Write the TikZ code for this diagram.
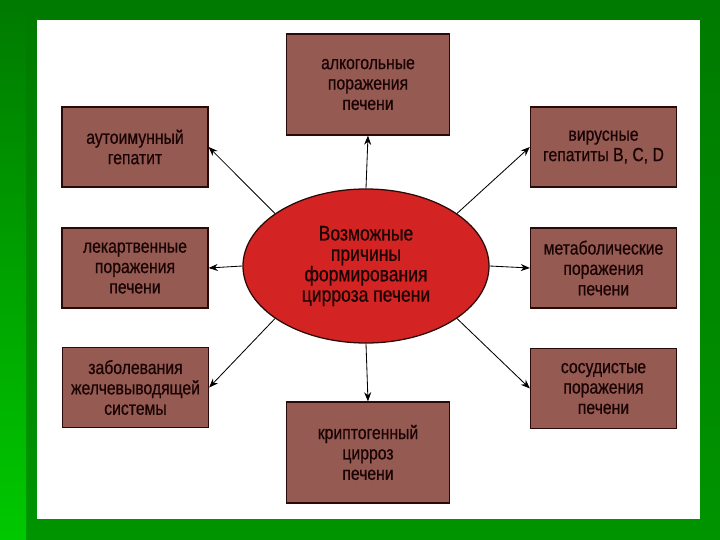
\documentclass[tikz,border=0pt]{standalone}
\usepackage{fontspec}
\setmainfont[FakeStretch=0.83, FakeBold=0.6]{Liberation Sans}
\usetikzlibrary{arrows.meta, shapes.geometric}
\definecolor{bgdark}{HTML}{007A00}
\definecolor{bglight}{HTML}{00C800}
\definecolor{bgmid}{HTML}{009400}
\definecolor{boxfill}{HTML}{955A52}
\definecolor{boxline}{HTML}{2A0A08}
\definecolor{redfill}{HTML}{D42323}
\definecolor{inktext}{HTML}{1A0303}
\tikzset{cause/.style={draw=boxline, line width=.9pt, fill=boxfill, align=center, text=inktext, font=\fontsize{13.5}{14.5}\selectfont, inner sep=0pt}}
\tikzset{sidebox/.style={cause, minimum width=36.5mm, minimum height=20mm}}
\tikzset{midbox/.style={cause, minimum width=40.75mm, minimum height=25.25mm}}
\tikzset{link/.style={line width=.6pt, black, -{Stealth[length=6.5pt, width=5pt]}}}

\begin{document}
\begin{tikzpicture}[x=.25mm, y=-.25mm]
		% Background
		\shade[top color=bgdark, bottom color=bgmid] (0,0) rectangle (720,540);
		\shade[top color=bgdark, bottom color=bglight] (0,0) rectangle (26,540);
		\fill[white] (37,20) rectangle (700,519);
		\useasboundingbox (0,0) rectangle (720,540);

		% Centre
		\node[ellipse, draw=boxline, fill=redfill, line width=.9pt, inner sep=0pt, minimum width=61.5mm, minimum height=38.5mm, align=center, text=inktext, font=\fontsize{15}{14.5}\selectfont] (root) at (366,266) {Возможные\\причины\\формирования\\цирроза печени};

		% Boxes
		\node[midbox] (alc) at (368,84.5) {алкогольные\\поражения\\печени};
		\node[midbox] (crypt) at (368,452.5) {криптогенный\\цирроз\\печени};
		\node[sidebox] (auto) at (135,147) {аутоимунный\\гепатит};
		\node[sidebox] (drug) at (135,268) {лекартвенные\\поражения\\печени};
		\node[sidebox] (bile) at (135.5,387.5) {заболевания\\желчевыводящей\\системы};
		\node[sidebox] (viral) at (603.5,147) {вирусные\\гепатиты B, C, D};
		\node[sidebox] (metab) at (603.5,268) {метаболические\\поражения\\печени};
		\node[sidebox] (vasc) at (603.5,388.5) {сосудистые\\поражения\\печени};

		% Arrows
		\draw[link] (root.north) -- (alc.south);
		\draw[link] (root.south) -- (crypt.north);
		\draw[link] (root.150) -- (auto.east);
		\draw[link] (root.west) -- (drug.east);
		\draw[link] (root.210) -- (bile.east);
		\draw[link] (root.30) -- (viral.west);
		\draw[link] (root.east) -- (metab.west);
		\draw[link] (root.330) -- (vasc.west);
	\end{tikzpicture}
\end{document}
